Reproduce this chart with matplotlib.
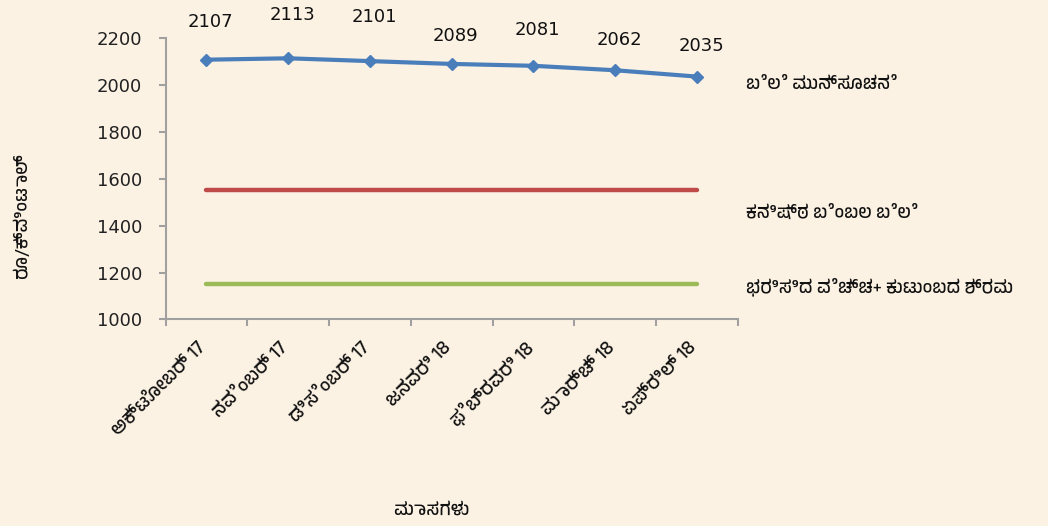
import matplotlib
matplotlib.use("Agg")
import matplotlib.pyplot as plt
from matplotlib import font_manager
from matplotlib.transforms import ScaledTranslation

months = ["ಅಕ್ಟೋಬರ್ 17", "ನವೆಂಬರ್ 17", "ಡಿಸೆಂಬರ್ 17", "ಜನವರಿ 18",
          "ಫೆಬ್ರವರಿ 18", "ಮಾರ್ಚ್ 18", "ಏಪ್ರಿಲ್ 18"]
forecast = [2107, 2113, 2101, 2089, 2081, 2062, 2035]
msp = [1550] * 7
cost = [1150] * 7
series_names = ["ಬೆಲೆ ಮುನ್ಸೂಚನೆ", "ಕನಿಷ್ಠ ಬೆಂಬಲ ಬೆಲೆ", "ಭರಿಸಿದ ವೆಚ್ಚ+ ಕುಟುಂಬದ ಶ್ರಮ"]
y_label = "ರೂ/ಕ್ವಿಂಟಾಲ್"
x_label = "ಮಾಸಗಳು"
y_ticks = [1000, 1200, 1400, 1600, 1800, 2000, 2200]

# find a Kannada-capable font if any
kn = [f.name for f in font_manager.fontManager.ttflist if "kannada" in f.name.lower()
      or "tunga" in f.name.lower() or "lohit" in f.name.lower()]
families = (kn[:1] if kn else []) + ["Noto Sans", "DejaVu Sans"]
plt.rcParams["font.family"] = families
num_font = ["DejaVu Sans"]

bg = "#FCF2E4"
fig = plt.figure(figsize=(10.48, 5.26), dpi=100, facecolor=bg)
ax = fig.add_axes([0.158, 0.3926, 0.546, 0.5354], facecolor=bg)

x = list(range(len(months)))
ax.plot(x, forecast, color="#4A7EBB", lw=3, marker="D", ms=6, zorder=3)
ax.plot(x, msp, color="#BE4B48", lw=3.2, solid_capstyle="round")
ax.plot(x, cost, color="#9BBB59", lw=3.2, solid_capstyle="round")

ax.set_xlim(-0.5, len(months) - 0.5)
ax.set_ylim(1000, 2200)
ax.set_yticks(y_ticks)
ax.set_yticklabels([str(v) for v in y_ticks], fontsize=13, color="#222222",
                   family=num_font)
ax.set_xticks([i - 0.5 for i in range(len(months) + 1)], minor=False)
ax.set_xticklabels([])
ax.set_xticks(x, minor=True)
ax.set_xticklabels(months, minor=True, rotation=45, ha="right",
                   rotation_mode="anchor", fontsize=13.5, color="#111111")
ax.tick_params(axis="x", which="minor", length=0, pad=14)
ax.tick_params(axis="x", which="major", length=5, color="#A0A0A0", width=1.5)
ax.tick_params(axis="y", length=5, color="#A0A0A0", width=1.5, pad=12)
shift = ScaledTranslation(-9 / 100, 0, fig.dpi_scale_trans)
for lab in ax.get_xticklabels(minor=True):
    lab.set_transform(lab.get_transform() + shift)

for s in ["top", "right"]:
    ax.spines[s].set_visible(False)
for s in ["left", "bottom"]:
    ax.spines[s].set_color("#A0A0A0")
    ax.spines[s].set_linewidth(1.5)

offsets = [27, 31, 32, 20, 26, 22, 22]
for i, v in enumerate(forecast):
    ax.annotate(str(v), (i, v), xytext=(3, offsets[i]), textcoords="offset points",
                ha="center", va="center", fontsize=13, color="#111111",
                family=num_font, annotation_clip=False)

label_pos = [0.835, 0.38, 0.115]
for name, yp in zip(series_names, label_pos):
    ax.text(1.015, yp, name, transform=ax.transAxes, fontsize=13,
            ha="left", va="center", color="#111111")

fig.text(0.021, 0.59, y_label, rotation=90, ha="center", va="center",
         fontsize=13, fontweight="bold", color="#111111")
fig.text(0.412, 0.03, x_label, ha="center", va="center",
         fontsize=13, fontweight="bold", color="#111111")

fig.savefig("out.png", dpi=100, facecolor=bg)
